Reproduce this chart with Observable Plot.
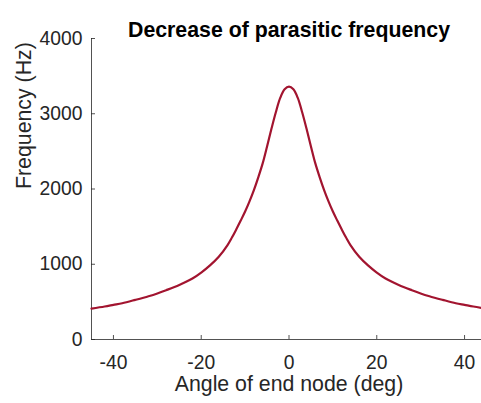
<!DOCTYPE html>
<html><head><meta charset="utf-8">
<script src="https://cdn.jsdelivr.net/npm/d3@7"></script>
<script src="https://cdn.jsdelivr.net/npm/@observablehq/plot@0.6"></script>
<style>html,body{margin:0;padding:0;overflow:hidden;background:#fff}</style>
</head><body><div id="chart"></div>
<script>
const title = "Decrease of parasitic frequency";
const xLabel = "Angle of end node (deg)";
const yLabel = "Frequency (Hz)";
const angles = [-45,-42,-40,-38,-35,-32,-30,-28,-25,-22,-20,-18,-16,-14,-13,-12,-11,-10,-9,-8,-7,-6,-5,-4,-3,-2,-1,0,
                1,2,3,4,5,6,7,8,9,10,11,12,13,14,16,18,20,22,25,28,30,32,35,38,40,42,45];
const freqs = [410,438,460,482,527,575,612,655,725,810,890,985,1100,1255,1355,1465,1580,1700,1835,1985,2155,2340,2565,2800,3020,3210,3325,3360,
               3325,3210,3020,2800,2565,2340,2155,1985,1835,1700,1580,1465,1355,1255,1100,985,890,810,725,655,612,575,527,482,460,438,410];
const xTicks = [-40,-20,0,20,40];
const yTicks = [0,1000,2000,3000,4000];
const xDomain = [-45,45];
const yDomain = [0,4000];

const data = angles.map((a,i)=>({angle:a, freq:freqs[i]}));
const font = "'Liberation Sans', Arial, Helvetica, sans-serif";
const axisColor = "#262626";
const lineColor = "#A2142F";
const plain = d => String(d);

const chart = Plot.plot({
  width: 487, height: 403,
  marginTop: 38, marginBottom: 64, marginLeft: 91, marginRight: 1,
  style: {fontFamily: font, background: "#fff", color: axisColor, maxWidth: "none"},
  x: {domain: xDomain},
  y: {domain: yDomain},
  marks: [
    Plot.ruleY([yDomain[0]], {stroke: axisColor, strokeWidth: 0.8}),
    Plot.ruleX([xDomain[0]], {stroke: axisColor, strokeWidth: 0.8}),
    Plot.axisX({ticks: xTicks, tickFormat: plain, tickSize: -4, tickPadding: 20, fontSize: 19.3, label: null, stroke: axisColor, strokeWidth: 0.8, fill: axisColor}),
    Plot.axisY({ticks: yTicks, tickFormat: plain, tickSize: -4, tickPadding: 13, fontSize: 19.3, label: null, stroke: axisColor, strokeWidth: 0.8, fill: axisColor}),
    Plot.line(data, {x: "angle", y: "freq", stroke: lineColor, strokeWidth: 2.2, curve: "catmull-rom"}),
    Plot.text([title], {frameAnchor: "top", dy: -17, text: d => d, fontSize: 21.3, fontWeight: "bold", fill: "#000"}),
    Plot.text([xLabel], {frameAnchor: "bottom", dy: 51, text: d => d, fontSize: 21.3, fill: axisColor}),
    Plot.text([yLabel], {frameAnchor: "left", dx: -67, rotate: -90, text: d => d, fontSize: 21.3, fill: axisColor})
  ]
});
document.getElementById("chart").appendChild(chart);
</script>
</body></html>
